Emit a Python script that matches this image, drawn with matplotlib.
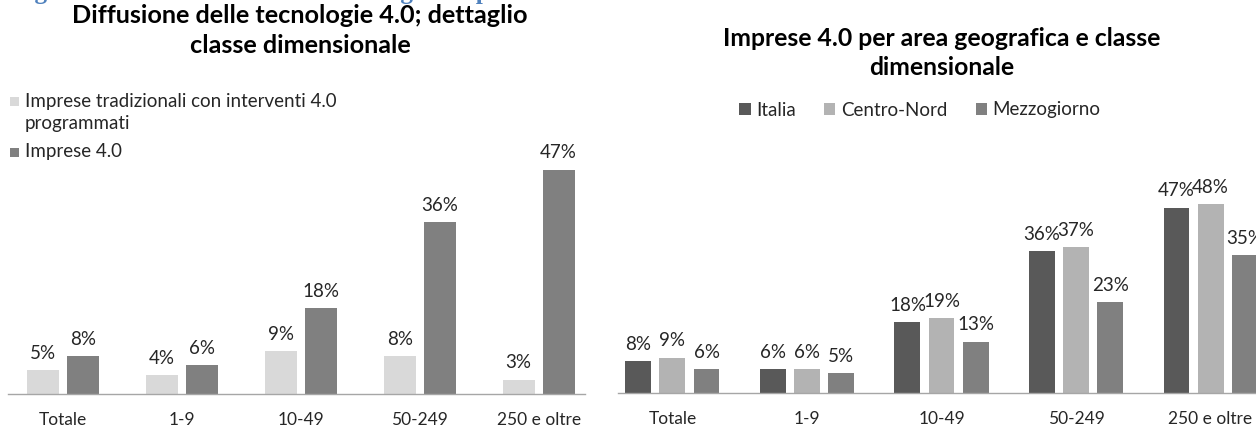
import matplotlib
matplotlib.use("Agg")
import matplotlib.pyplot as plt
from matplotlib.patches import Rectangle
import numpy as np

plt.rcParams['font.family'] = ['Lato', 'DejaVu Sans']

# ---------------- data ----------------
categories = ["Totale", "1-9", "10-49", "50-249", "250 e oltre"]

left_series_names = ["Imprese tradizionali con interventi 4.0\nprogrammati", "Imprese 4.0"]
left_tradizionali = [5, 4, 9, 8, 3]
left_imprese40 = [8, 6, 18, 36, 47]

right_series_names = ["Italia", "Centro-Nord", "Mezzogiorno"]
right_italia = [8, 6, 18, 36, 47]
right_centronord = [9, 6, 19, 37, 48]
right_mezzogiorno = [6, 5, 13, 23, 35]

left_title = "Diffusione delle tecnologie 4.0; dettaglio\nclasse dimensionale"
right_title = "Imprese 4.0 per area geografica e classe\ndimensionale"
top_caption = "Figura 4.9 \u2013 Diffusione delle tecnologie 4.0 per classe dimensionale"

# ---------------- figure ----------------
W, H = 1256, 430
fig = plt.figure(figsize=(W / 100, H / 100), dpi=100)

def fx(px):
    return px / W

def fy(py):
    return 1 - py / H

axis_color = "#a6a6a6"
text_color = "#262626"
label_fs = 13.5
cat_fs = 12.5

# ---- left chart ----
l_left, l_right, l_base = 8, 585, 394
l_top = l_base - 4.77 * 50
axL = fig.add_axes([fx(l_left), fy(l_base), fx(l_right - l_left), (l_base - l_top) / H])
x = np.arange(len(categories))
bw = 0.27
off = 0.168
b1 = axL.bar(x - off, left_tradizionali, bw, color="#d9d9d9", label=left_series_names[0])
b2 = axL.bar(x + off, left_imprese40, bw, color="#808080", label=left_series_names[1])
axL.set_xlim(-0.46, 4.39)
axL.set_ylim(0, 50)
for bars, vals in ((b1, left_tradizionali), (b2, left_imprese40)):
    for r, v in zip(bars, vals):
        axL.annotate(f"{v}%", (r.get_x() + r.get_width() / 2, r.get_height()),
                     xytext=(0, 6), textcoords="offset points", ha="center", va="bottom",
                     fontsize=label_fs, color=text_color)

# ---- right chart ----
r_left, r_right, r_base = 618, 1256, 393
r_top = r_base - 3.94 * 50
axR = fig.add_axes([fx(r_left), fy(r_base), fx(r_right - r_left), (r_base - r_top) / H])
bw2 = 0.193
off2 = 0.253
c1 = axR.bar(x - off2, right_italia, bw2, color="#595959", label=right_series_names[0])
c2 = axR.bar(x, right_centronord, bw2, color="#b3b3b3", label=right_series_names[1])
c3 = axR.bar(x + off2, right_mezzogiorno, bw2, color="#808080", label=right_series_names[2])
axR.set_xlim(-0.405, 4.338)
axR.set_ylim(0, 50)
for bars, vals in ((c1, right_italia), (c2, right_centronord), (c3, right_mezzogiorno)):
    for r, v in zip(bars, vals):
        axR.annotate(f"{v}%", (r.get_x() + r.get_width() / 2, r.get_height()),
                     xytext=(0, 6), textcoords="offset points", ha="center", va="bottom",
                     fontsize=label_fs, color=text_color, annotation_clip=False)

for ax in (axL, axR):
    for s in ("top", "left", "right"):
        ax.spines[s].set_visible(False)
    ax.spines["bottom"].set_color(axis_color)
    ax.spines["bottom"].set_linewidth(1.0)
    ax.set_yticks([])
    ax.set_xticks(x)
    ax.set_xticklabels(categories, fontsize=cat_fs, color=text_color)
    ax.tick_params(axis="x", length=0, pad=13)
    ax.patch.set_alpha(0)

# ---- titles ----
fig.text(fx(300), fy(30.5), left_title, ha="center", va="center", fontsize=18.2,
         fontweight="bold", color="#000000", linespacing=1.35)
fig.text(fx(942), fy(53), right_title, ha="center", va="center", fontsize=17.8,
         fontweight="bold", color="#000000", linespacing=1.35)

# ---- left legend (marker aligned with the first line of each entry) ----
sq = 9
leg_items = [(b1, left_series_names[0], 101), (b2, left_series_names[1], 152)]
for cont, name, ypx in leg_items:
    col = cont.patches[0].get_facecolor()
    fig.patches.append(Rectangle((fx(10), fy(ypx + sq / 2)), fx(sq), sq / H,
                                 transform=fig.transFigure, facecolor=col,
                                 edgecolor="none", figure=fig))
    for i, ln in enumerate(name.split("\n")):
        fig.text(fx(25), fy(ypx + 23 * i), ln, ha="left", va="center",
                 fontsize=label_fs, color=text_color)

# ---- right legend ----
legR = axR.legend(handles=[c1, c2, c3], loc="center", bbox_to_anchor=(fx(920), fy(110)),
                  bbox_transform=fig.transFigure, frameon=False, fontsize=label_fs, ncol=3,
                  handlelength=0.6, handleheight=0.6, handletextpad=0.3,
                  columnspacing=1.5, borderpad=0, borderaxespad=0, labelcolor=text_color)

# ---- caption cut off at the top edge (only its descenders show) ----
fig.text(fx(12), fy(-1.5), top_caption, ha="left", va="baseline", fontsize=18.2,
         fontweight="bold", color="#4f81bd", family="Liberation Serif")

fig.savefig("out.png", dpi=100)
